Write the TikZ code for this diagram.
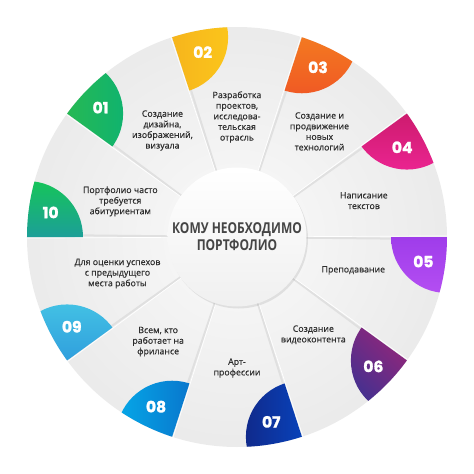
\documentclass[tikz,border=0pt]{standalone}
\usepackage{fontspec}
\setmainfont{Open Sans}
\newfontfamily\txtfont{Open Sans}[FakeBold=0.4]
\newfontfamily\hubfont{Open Sans}[FakeStretch=0.8]
\newfontfamily\numfont{Poppins}[BoldFeatures={FakeBold=1.6}]
\usetikzlibrary{shadows}
\definecolor{txtgray}{HTML}{2E2E2E}
\definecolor{hubgray}{HTML}{454545}
\definecolor{gA}{HTML}{3DBE3A}\definecolor{gB}{HTML}{10B36E}
\definecolor{yA}{HTML}{F2A51E}\definecolor{yB}{HTML}{FBC51B}
\definecolor{oA}{HTML}{F7981D}\definecolor{oB}{HTML}{F05A24}
\definecolor{mA}{HTML}{B0124C}\definecolor{mB}{HTML}{EA2490}
\definecolor{pA}{HTML}{8A2BE2}\definecolor{pB}{HTML}{B44EF2}
\definecolor{vA}{HTML}{C81F6C}\definecolor{vB}{HTML}{47308F}
\definecolor{bA}{HTML}{102A8C}\definecolor{bB}{HTML}{0059E6}
\definecolor{cA}{HTML}{05A8E8}\definecolor{cB}{HTML}{0B5EBF}
\definecolor{sA}{HTML}{42C0E4}\definecolor{sB}{HTML}{1E7ED6}
\definecolor{tA}{HTML}{16C45A}\definecolor{tB}{HTML}{2279D6}
\tikzset{
  txt/.style={align=center, text=txtgray, inner sep=0pt, font=\txtfont\fontsize{8.8}{10.6}\selectfont},
  num/.style={text=white, inner sep=0pt, font=\numfont\bfseries\fontsize{15.5}{15.5}\selectfont},
  sepshadow/.style={line width=2pt, black!12},
  seplight/.style={line width=0.7pt, white},
  hub/.style={circle, minimum size=139pt, inner sep=0pt, align=center, top color=white,
    bottom color=gray!12, drop shadow={opacity=0.18, shadow xshift=1.5pt, shadow yshift=-2pt},
    text=hubgray, font=\hubfont\bfseries\fontsize{15}{17}\selectfont},
}
\begin{document}
\begin{tikzpicture}[x=1pt, y=1pt]
  \useasboundingbox (-237,-237) rectangle (237,237);
  % Disc
  \shade[inner color=gray!4, outer color=gray!16] (0,0) circle (210);
  % Separators
  \foreach \a in {0,36,...,324} {
      \draw[sepshadow] (\a-0.6:69) -- (\a-0.6:210);
      \draw[seplight] (\a+0.3:69) -- (\a+0.3:210);
    }
  % Coloured tabs
  \foreach \n/\a/\ca/\cb/\s in {01/144/gA/gB/90, 02/108/yA/yB/90, 03/72/oA/oB/0,
      04/36/mA/mB/0, 05/0/pA/pB/0, 06/-36/vA/vB/-45, 07/-72/bA/bB/90,
      08/-108/cA/cB/90, 09/-144/sA/sB/0, 10/180/tA/tB/0} {
      \begin{scope}
        \clip (0,0) -- (\a:210) arc[start angle=\a, end angle=\a-36, radius=210] -- cycle;
        \shade[top color=\ca, bottom color=\cb, shading angle=\s] (\a:210) circle (56);
      \end{scope}
      \node[num] (n\n) at (\a-7.5:188) {\n};
    }
  % Labels
  \foreach \n/\p/\r/\t in {01/125/130/{Создание\\дизайна,\\изображений,\\визуала},
      02/90/120/{Разработка\\проектов,\\исследова-\\тельская\\отрасль},
      03/52/134/{Создание и\\продвижение\\новых\\технологий},
      04/16/132/{Написание\\текстов},
      05/-16/121/{Преподавание},
      06/-52/124/{Создание\\видеоконтента},
      07/-90/131/{Арт-\\профессии},
      08/-127/131/{Всем, кто\\работает на\\фрилансе},
      09/-163/125/{Для оценки успехов\\с предыдущего\\места работы},
      10/163/122/{Портфолио часто\\требуется\\абитуриентам}} {
      \node[txt] (t\n) at (\p:\r) {\t};
    }
  % Centre
  \node[hub] (hub) at (0,0) {КОМУ НЕОБХОДИМО\\ПОРТФОЛИО};
\end{tikzpicture}
\end{document}
